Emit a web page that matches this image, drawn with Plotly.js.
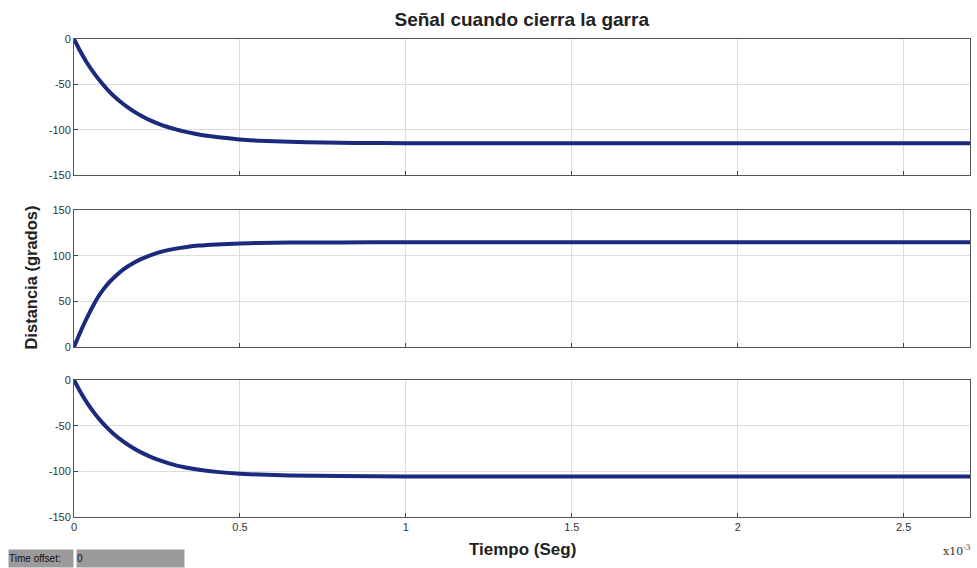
<!DOCTYPE html>
<html>
<head>
<meta charset="utf-8">
<script src="https://cdn.plot.ly/plotly-3.0.1.min.js"></script>
<style>html,body{margin:0;padding:0;background:#fff;}#chart{width:977px;height:568px;}</style>
</head>
<body>
<div id="chart"></div>
<script>
// Time axis in units of 1e-3 s
const t1 = [0, 0.019, 0.038, 0.063, 0.088, 0.105, 0.125, 0.14, 0.158, 0.18, 0.208, 0.23, 0.257, 0.28, 0.307, 0.33, 0.357, 0.38, 0.407, 0.45, 0.5, 0.557, 0.65, 0.75, 0.85, 1.0, 1.5, 2.0, 2.5, 2.7];
const y1 = [0, -13.5, -25.6, -39, -50.5, -57.4, -64.5, -69.2, -74.3, -79.8, -85.7, -89.7, -93.8, -96.8, -99.7, -101.9, -104, -105.6, -107.1, -109, -110.9, -112.2, -113.4, -114.2, -114.6, -115, -115, -115, -115, -115];

const t2 = [0, 0.014, 0.028, 0.043, 0.058, 0.073, 0.088, 0.108, 0.128, 0.15, 0.178, 0.205, 0.238, 0.27, 0.307, 0.34, 0.377, 0.43, 0.5, 0.557, 0.65, 0.8, 1.0, 1.5, 2.0, 2.5, 2.7];
const y2 = [0, 12, 23.5, 35, 45.5, 55, 62.8, 71.5, 78.6, 85.2, 91.6, 96.7, 101.5, 104.9, 107.7, 109.5, 111, 112.3, 113.4, 113.9, 114.3, 114.5, 114.6, 114.6, 114.6, 114.6, 114.6];

const t3 = [0, 0.019, 0.038, 0.058, 0.078, 0.098, 0.118, 0.148, 0.178, 0.205, 0.238, 0.27, 0.307, 0.34, 0.377, 0.43, 0.5, 0.557, 0.65, 0.8, 1.0, 1.5, 2.0, 2.5, 2.7];
const y3 = [0, -12.9, -24.2, -34.6, -43.7, -51.6, -58.5, -67.3, -74.5, -79.8, -85.2, -89.4, -93.5, -96, -98.2, -100.6, -102.6, -103.5, -104.5, -105.2, -105.6, -105.6, -105.6, -105.6, -105.6];

const xTickVals = [0, 0.5, 1, 1.5, 2, 2.5];
const xTickText = ['0', '0.5', '1', '1.5', '2', '2.5'];
const yNegVals = [0, -50, -100, -150];
const yNegText = ['0', '-50', '-100', '-150'];
const yPosVals = [0, 50, 100, 150];
const yPosText = ['0', '50', '100', '150'];

const lineStyle = {color: '#1b2a7c', width: 4, shape: 'spline', smoothing: 0.5};
const traces = [
  {x: t1, y: y1, xaxis: 'x', yaxis: 'y', mode: 'lines', line: lineStyle, hoverinfo: 'skip'},
  {x: t2, y: y2, xaxis: 'x2', yaxis: 'y2', mode: 'lines', line: lineStyle, hoverinfo: 'skip'},
  {x: t3, y: y3, xaxis: 'x3', yaxis: 'y3', mode: 'lines', line: lineStyle, hoverinfo: 'skip'}
];

const tickFont = {family: 'Liberation Sans, Arial, sans-serif', size: 11, color: '#333'};
function xax(anchor, labels) {
  return {
    anchor: anchor, domain: [0, 1], range: [0, 2.7],
    tickvals: xTickVals, ticktext: xTickText, showticklabels: labels,
    ticks: 'inside', ticklen: 4, tickcolor: '#444',
    showgrid: true, gridcolor: '#dcdcdc', gridwidth: 1,
    showline: true, linecolor: '#555', linewidth: 1, mirror: true,
    zeroline: false, tickfont: tickFont, fixedrange: true
  };
}
function yax(anchor, dom, range, vals, text) {
  return {
    anchor: anchor, domain: dom, range: range,
    tickvals: vals, ticktext: text,
    ticks: 'inside', ticklen: 4, tickcolor: '#444',
    showgrid: true, gridcolor: '#dcdcdc', gridwidth: 1,
    showline: true, linecolor: '#555', linewidth: 1, mirror: true,
    zeroline: false, tickfont: tickFont, fixedrange: true
  };
}

const layout = {
  width: 977, height: 568,
  margin: {l: 74, r: 7, t: 39, b: 51},
  paper_bgcolor: '#ffffff', plot_bgcolor: '#ffffff',
  showlegend: false,
  font: {family: 'Liberation Sans, Arial, sans-serif'},
  title: {text: '<b>Señal cuando cierra la garra</b>', x: 0.534, xanchor: 'center', y: 0.966, yanchor: 'middle',
          font: {family: 'Liberation Sans, Arial, sans-serif', size: 19, color: '#222'}},
  xaxis: xax('y', false),
  yaxis: yax('x', [0.7155, 1], [-150, 0], yNegVals, yNegText),
  xaxis2: xax('y2', false),
  yaxis2: yax('x2', [0.3556, 0.6423], [0, 150], yPosVals, yPosText),
  xaxis3: xax('y3', true),
  yaxis3: yax('x3', [0, 0.2866], [-150, 0], yNegVals, yNegText),
  annotations: [
    {text: '<b>Distancia (grados)</b>', xref: 'paper', yref: 'paper', x: -0.0485, y: 0.5, textangle: -90,
     showarrow: false, xanchor: 'center', yanchor: 'middle',
     font: {family: 'Liberation Sans, Arial, sans-serif', size: 16.5, color: '#222'}},
    {text: '<b>Tiempo (Seg)</b>', xref: 'paper', yref: 'paper', x: 0.5, y: -0.0690, showarrow: false,
     xanchor: 'center', yanchor: 'middle',
     font: {family: 'Liberation Sans, Arial, sans-serif', size: 17, color: '#222'}},
    {text: 'x10<sup>-3</sup>', xref: 'paper', yref: 'paper', x: 1.003, y: -0.0700, showarrow: false,
     xanchor: 'right', yanchor: 'middle',
     font: {family: 'DejaVu Serif, Liberation Serif, serif', size: 11, color: '#333'}},
    {text: 'Time offset:', xref: 'paper', yref: 'paper', x: -0.0737, y: -0.0858, showarrow: false,
     xanchor: 'left', yanchor: 'middle', width: 64, height: 17, align: 'left', bgcolor: '#9b9b9b',
     borderpad: 0, font: {family: 'Liberation Sans, Arial, sans-serif', size: 10, color: '#111'}},
    {text: '0', xref: 'paper', yref: 'paper', x: 0.0022, y: -0.0858, showarrow: false,
     xanchor: 'left', yanchor: 'middle', width: 107, height: 17, align: 'left', bgcolor: '#9b9b9b',
     borderpad: 0, font: {family: 'Liberation Sans, Arial, sans-serif', size: 10, color: '#111'}}
  ]
};

Plotly.newPlot('chart', traces, layout, {displayModeBar: false, staticPlot: true});
</script>
</body>
</html>
